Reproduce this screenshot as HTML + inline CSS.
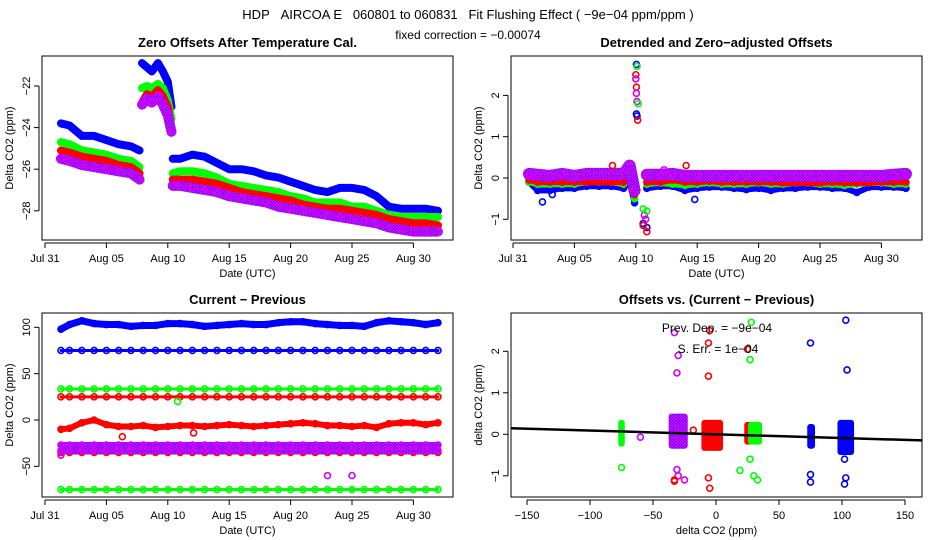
<!DOCTYPE html>
<html><head><meta charset="utf-8"><style>
html,body{margin:0;padding:0;background:#fff;}
svg{display:block;font-family:"Liberation Sans",sans-serif;}
</style></head><body>
<svg id="c" width="936" height="540" viewBox="0 0 936 540">
<defs>
<pattern id="pp" width="3" height="3" patternUnits="userSpaceOnUse"><rect width="3" height="3" fill="#ff00ff"/><rect x="0" y="0" width="1.5" height="1.5" fill="#2020ff"/><rect x="1.5" y="1.5" width="1.5" height="1.5" fill="#8000ff"/></pattern>
</defs>
<text x="468" y="19" text-anchor="middle" font-size="13">HDP&#160;&#160;&#160;AIRCOA E&#160;&#160;&#160;060801 to 060831&#160;&#160;&#160;Fit Flushing Effect ( −9e−04 ppm/ppm )</text>
<text x="468" y="39" text-anchor="middle" font-size="12">fixed correction = −0.00074</text>
</svg>
<script>
// ---------- Panel 1 data ----------
const p1Seg1Days=[1.3,2,3,4,5,6,7,7.7];
const p1Seg2Days=[7.9,8.3,8.7,9.2,9.6,10,10.3];
const p1Seg3Days=[10.4,11,12,13,14,15,16,17,18,19,20,21,22,23,24,25,26,27,28,29,30,31,32];
const p1Blue=[[-23.8,-23.9,-24.4,-24.4,-24.6,-24.8,-24.9,-25.1],[-20.9,-21.1,-21.3,-20.9,-21.3,-21.8,-23],[-25.5,-25.5,-25.3,-25.4,-25.7,-26,-26,-26.1,-26.3,-26.4,-26.6,-26.8,-27,-27.1,-26.9,-26.9,-27,-27.3,-27.8,-27.9,-27.9,-27.9,-28]];
const p1Green=[[-24.7,-24.8,-25.1,-25.2,-25.3,-25.5,-25.6,-25.9],[-22.1,-22,-22.1,-21.9,-22.1,-22.7,-23.6],[-26.2,-26.1,-26.1,-26.2,-26.4,-26.7,-26.8,-26.9,-27,-27.1,-27.3,-27.4,-27.6,-27.6,-27.6,-27.8,-27.8,-28,-28.2,-28.3,-28.3,-28.3,-28.3]];
const p1Red=[[-25.1,-25.2,-25.4,-25.5,-25.6,-25.8,-25.9,-26.2],[-22.8,-22.4,-22.5,-22.2,-22.5,-23,-24.1],[-26.5,-26.5,-26.5,-26.6,-26.7,-26.9,-27.1,-27.2,-27.3,-27.4,-27.5,-27.7,-27.8,-27.9,-27.9,-28,-28.1,-28.2,-28.4,-28.5,-28.6,-28.6,-28.7]];
const p1Purple=[[-25.5,-25.6,-25.8,-25.9,-26,-26.1,-26.2,-26.5],[-22.9,-22.6,-22.8,-22.5,-22.9,-23.4,-24.2],[-26.8,-26.8,-26.9,-27,-27.1,-27.3,-27.4,-27.5,-27.6,-27.8,-27.9,-28,-28.1,-28.2,-28.3,-28.4,-28.5,-28.6,-28.8,-28.9,-29,-29,-29]];
const p1YTicks=[-22,-24,-26,-28];
// ---------- Panel 2 data ----------
const p2SegADays=[1.3,2,3,4,5,6,7,8,9,9.5,9.9];
const p2SegBDays=[10.9,12,13,14,15,16,17,18,19,20,21,22,23,24,25,26,27,28,29,30,31,32];
const p2Blue=[[-0.1,-0.3,-0.3,-0.25,-0.25,-0.2,-0.2,-0.2,-0.25,-0.1,-0.6],[-0.25,-0.2,-0.2,-0.3,-0.25,-0.22,-0.22,-0.25,-0.28,-0.25,-0.3,-0.25,-0.25,-0.22,-0.22,-0.25,-0.25,-0.35,-0.22,-0.22,-0.22,-0.25]];
const p2Green=[[-0.1,-0.15,-0.15,-0.15,-0.15,-0.1,-0.1,-0.1,-0.15,0.05,-0.5],[-0.15,-0.12,-0.15,-0.18,-0.15,-0.12,-0.15,-0.15,-0.15,-0.12,-0.15,-0.15,-0.12,-0.12,-0.15,-0.15,-0.18,-0.15,-0.12,-0.12,-0.15,-0.15]];
const p2Red=[[-0.05,-0.1,-0.1,-0.1,-0.1,-0.1,-0.1,-0.1,-0.1,0.1,-0.4],[-0.1,-0.1,-0.05,-0.1,-0.1,-0.08,-0.1,-0.1,-0.1,-0.1,-0.1,-0.12,-0.12,-0.12,-0.12,-0.1,-0.12,-0.12,-0.12,-0.1,-0.1,-0.1]];
const p2Purple=[[0.1,0.08,0.05,0.1,0.05,0.1,0.1,0.1,0.1,0.3,-0.3],[0.08,0.08,0.1,0.05,0.05,0.05,0.05,0.05,0.05,0.05,0.05,0.05,0.05,0.05,0.05,0.05,0.05,0.05,0.05,0.05,0.08,0.1]];
const p2OutDays=[10.05,10.05,10.1,10.0,10.05,10.15,10.0,10.05,10.1,10.1,10.2,10.6,10.9,10.6,10.9,10.7,10.8,10.6,10.9,2.4,14.8,3.2,12.3,8.1,14.1];
const p2OutVals=[2.75,1.55,1.5,2.5,2.2,1.4,2.4,2.05,1.85,2.7,1.8,-1.1,-1.2,-1.15,-1.3,-0.9,-1.0,-0.75,-0.8,-0.58,-0.52,-0.4,0.2,0.3,0.3];
const p2OutColors=["blue","blue","blue","red","red","red","purple","purple","purple","green","green","blue","blue","red","red","purple","purple","green","green","blue","blue","blue","purple","red","red"];
const p2YTicks=[2,1,0,-1];
// ---------- Panel 3 data ----------
const p3Days=[1.3,2,3,4,5,6,7,8,9,10,11,12,13,14,15,16,17,18,19,20,21,22,23,24,25,26,27,28,29,30,31,32];
const p3BlueTop=[98,103,107,104,103,103,101,102,102,104,104,103,101,102,103,104,103,103,105,106,106,104,103,102,102,101,105,107,106,105,103,105];
const p3RedMid=[-10,-9,-3,0,-5,-7,-7,-6,-8,-7,-6,-6,-7,-6,-5,-6,-7,-6,-5,-4,-3,-4,-6,-6,-7,-6,-8,-4,-3,-3,-5,-3];
const p3Levels=[75,33.5,25,-75];
const p3LevelColors=["blue","green","red","green"];
const p3PurpleTop=-27, p3PurpleBot=-33, p3RedLow=-35;
const p3OutDays=[23,25,6.3,10.8,1.3,12.1];
const p3OutVals=[-60,-60,-18,20,-38,-14];
const p3OutColors=["purple","purple","red","green","purple","red"];
const p3YTicks=[100,50,0,-50];
// ---------- Panel 4 data ----------
const p4ClusterX0=[-76,-36,-10,24,27,74,98];
const p4ClusterX1=[-74,-24,4,27,35,77,108];
const p4ClusterY0=[-0.25,-0.3,-0.35,-0.2,-0.2,-0.3,-0.45];
const p4ClusterY1=[0.3,0.45,0.3,0.25,0.25,0.2,0.3];
const p4ClusterColors=["green","purple","red","red","green","blue","blue"];
const p4OutX=[-75,-60,-33,-30,-31,-31,-30,-33,-25,-5,-6,-6,-6,-5,-33,25,28,27,30,33,27,19,75,75,75,103,104,103,102,102,-18];
const p4OutY=[-0.8,-0.07,2.45,1.9,1.48,-0.85,-1.0,-1.1,-1.1,2.5,2.2,1.4,-1.05,-1.3,-1.13,2.05,2.7,1.8,-1.0,-1.1,-0.6,-0.87,2.2,-0.97,-1.15,2.75,1.55,-1.05,-1.2,-0.6,0.1];
const p4OutColors=["green","purple","purple","purple","purple","purple","purple","red","purple","red","red","red","red","red","red","red","green","green","green","green","green","green","blue","blue","blue","blue","blue","blue","blue","blue","red"];
const p4Slope=-0.0009, p4Intercept=0.0;
const p4XTicks=[-150,-100,-50,0,50,100,150];
const p4YTicks=[2,1,0,-1];
const dateTicks=[0,5,10,15,20,25,30];
const dateLabels=["Jul 31","Aug 05","Aug 10","Aug 15","Aug 20","Aug 25","Aug 30"];

const NS="http://www.w3.org/2000/svg";
const svg=document.getElementById('c');
const COL={blue:"#0000ff",green:"#00ff00",red:"#ff0000",purple:"url(#pp)"};
function mk(tag,attrs,parent){const e=document.createElementNS(NS,tag);for(const k in attrs)e.setAttribute(k,attrs[k]);(parent||svg).appendChild(e);return e;}
function circ(g,x,y,c){const el=mk('circle',{cx:x,cy:y,r:3,fill:'none',stroke:c==='purple'?'#d000ff':COL[c],'stroke-width':1.6},g);

return el;}
function band(g,days,vals,sx,sy,c,w,name){
 const pts=days.map((d,i)=>sx(d)+','+sy(vals[i])).join(' ');
 const el=mk('polyline',{points:pts,fill:'none',stroke:COL[c],'stroke-width':w,'stroke-linejoin':'round','stroke-linecap':'round'},g);
 
 
 days.forEach((d,i)=>circ(g,sx(d),sy(vals[i]),c));
}
function axes(p){
 const g=mk('g',{});
 
 
 const t=mk('text',{x:(p.x0+p.x1)/2,y:p.y0-9,'text-anchor':'middle','font-size':13,'font-weight':'bold'},g);t.textContent=p.title;
 
 
 const r=mk('rect',{x:p.x0,y:p.y0,width:p.x1-p.x0,height:p.y1-p.y0,fill:'none',stroke:'#000','stroke-width':1},g);
 
 
 p.xt.forEach((v,i)=>{const x=p.sx(v);mk('line',{x1:x,x2:x,y1:p.y1+3,y2:p.y1+8,stroke:'#000'},g);
  const tx=mk('text',{x:x,y:p.y1+22,'text-anchor':'middle','font-size':11},g);tx.textContent=p.xl[i];
  
  });
 mk('line',{x1:p.sx(p.xt[0]),x2:p.sx(p.xt[p.xt.length-1]),y1:p.y1+3,y2:p.y1+3,stroke:'#000'},g);
 p.yt.forEach(v=>{const y=p.sy(v);mk('line',{x1:p.x0-3,x2:p.x0-8,y1:y,y2:y,stroke:'#000'},g);
  const tx=mk('text',{x:0,y:0,'text-anchor':'middle','font-size':11,transform:`translate(${p.x0-12},${y}) rotate(-90)`},g);tx.textContent=String(v).replace('-','−');
  
  });
 mk('line',{x1:p.x0-3,x2:p.x0-3,y1:p.sy(p.yt[0]),y2:p.sy(p.yt[p.yt.length-1]),stroke:'#000'},g);
 const xl=mk('text',{x:(p.x0+p.x1)/2,y:p.y1+37,'text-anchor':'middle','font-size':11},g);xl.textContent=p.xlab;
 
 
 const yl=mk('text',{x:0,y:0,'text-anchor':'middle','font-size':11,transform:`translate(${p.x0-29},${(p.y0+p.y1)/2}) rotate(-90)`},g);yl.textContent=p.ylab;
 
 
 const cg=mk('g',{},g);
 
 
 return cg;
}
// Panel 1
{const sx=d=>45+d*12.28, sy=v=>86+(-22-v)*20.8;
 const g=axes({name:'panel-zero-offsets',title:'Zero Offsets After Temperature Cal.',x0:42,x1:453,y0:56,y1:240,sx,sy,xt:dateTicks,xl:dateLabels,yt:p1YTicks,xlab:'Date (UTC)',ylab:'Delta CO2 (ppm)'});
 const segs=[p1Seg1Days,p1Seg2Days,p1Seg3Days];
 [[p1Blue,'blue'],[p1Green,'green'],[p1Red,'red'],[p1Purple,'purple']].forEach(([s,c])=>segs.forEach((d,i)=>band(g,d,s[i],sx,sy,c,c==='purple'?10:8,'series-'+c)));}
// Panel 2
{const sx=d=>513+d*12.28, sy=v=>178-v*41.3;
 const g=axes({name:'panel-detrended',title:'Detrended and Zero−adjusted Offsets',x0:511,x1:922,y0:56,y1:240,sx,sy,xt:dateTicks,xl:dateLabels,yt:p2YTicks,xlab:'Date (UTC)',ylab:'Delta CO2 (ppm)'});
 const segs=[p2SegADays,p2SegBDays];
 [[p2Blue,'blue'],[p2Green,'green'],[p2Red,'red'],[p2Purple,'purple']].forEach(([s,c])=>segs.forEach((d,i)=>band(g,d,s[i],sx,sy,c,c==='purple'?12:6,'series-'+c)));
 p2OutDays.forEach((d,i)=>circ(g,sx(d),sy(p2OutVals[i]),p2OutColors[i]));}
// Panel 3
{const sx=d=>45+d*12.28, sy=v=>420-v*0.927;
 const g=axes({name:'panel-current-previous',title:'Current − Previous',x0:42,x1:453,y0:313,y1:497,sx,sy,xt:dateTicks,xl:dateLabels,yt:p3YTicks,xlab:'Date (UTC)',ylab:'Delta CO2 (ppm)'});
 p3Levels.forEach((v,i)=>band(g,p3Days,p3Days.map(()=>v),sx,sy,p3LevelColors[i],3,'level-'+p3LevelColors[i]));
 band(g,p3Days,p3Days.map(()=>p3RedLow),sx,sy,'red',4,'level-red-low');
 band(g,p3Days,p3Days.map(()=>p3PurpleTop),sx,sy,'purple',6,'level-purple-top');
 band(g,p3Days,p3Days.map(()=>p3PurpleBot),sx,sy,'purple',7,'level-purple-bottom');
 band(g,p3Days,p3BlueTop,sx,sy,'blue',7,'series-blue-top');
 band(g,p3Days,p3RedMid,sx,sy,'red',6,'series-red-middle');
 p3OutDays.forEach((d,i)=>circ(g,sx(d),sy(p3OutVals[i]),p3OutColors[i]));}
// Panel 4
{const sx=v=>716+v*1.26, sy=v=>434.3-v*41.5;
 const g=axes({name:'panel-offsets-vs-diff',title:'Offsets vs. (Current − Previous)',x0:511,x1:922,y0:313,y1:497,sx,sy,xt:p4XTicks,xl:p4XTicks.map(v=>String(v).replace('-','−')),yt:p4YTicks,xlab:'delta CO2 (ppm)',ylab:'delta CO2 (ppm)'});
 p4ClusterX0.forEach((x0,i)=>{const c=p4ClusterColors[i];
  const r=mk('rect',{x:sx(x0)-2,y:sy(p4ClusterY1[i])-2,width:sx(p4ClusterX1[i])-sx(x0)+4,height:sy(p4ClusterY0[i])-sy(p4ClusterY1[i])+4,fill:COL[c],rx:3},g);
  
  });
 p4OutX.forEach((x,i)=>circ(g,sx(x),sy(p4OutY[i]),p4OutColors[i]));
 const l=mk('line',{x1:511,x2:922,y1:sy(p4Intercept+p4Slope*((511-716)/1.26)),y2:sy(p4Intercept+p4Slope*((922-716)/1.26)),stroke:'#000','stroke-width':2.5},g);
 
 
 const t1=mk('text',{x:717,y:332,'text-anchor':'middle','font-size':12},g);t1.textContent='Prev. Dep. =  −9e−04';
 
 
 const t2=mk('text',{x:718,y:353,'text-anchor':'middle','font-size':12},g);t2.textContent='S. Err. =  1e−04';
 
 }
</script>
</body></html>
